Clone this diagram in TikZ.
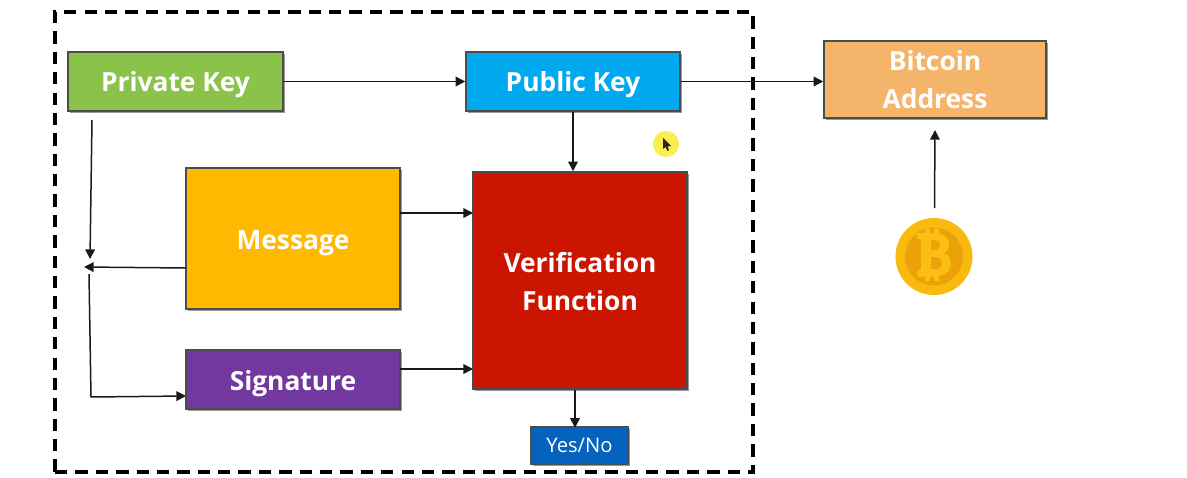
\documentclass[tikz,border=0pt]{standalone}
\usepackage{fontspec}
\setmainfont{Open Sans}
\usetikzlibrary{arrows.meta}
\definecolor{cgreen}{HTML}{8BC34A}
\definecolor{cblue}{HTML}{00A8F0}
\definecolor{corange}{HTML}{F4B56A}
\definecolor{cyellow}{HTML}{FFB900}
\definecolor{cpurple}{HTML}{7238A0}
\definecolor{cred}{HTML}{CC1500}
\definecolor{cdeep}{HTML}{0563BE}
\definecolor{coinA}{HTML}{F9B90E}
\definecolor{coinB}{HTML}{EBA208}
\definecolor{coinC}{HTML}{FDBE14}
\definecolor{hilite}{HTML}{F9EE4E}
\newcommand{\lowered}[2]{\raisebox{-#1}[\height][\depth]{#2}}
\tikzset{
  box/.style={draw=black!70!white,line width=0.9pt,text=white,align=center,inner sep=0pt,
    font=\bfseries\fontsize{15}{21.5}\selectfont,
    preaction={draw=none,fill=black!40,transform canvas={shift={(1.1pt,-1.1pt)}}}},
  link/.style={draw=black!90,line width=0.85pt,-{Triangle[length=5.5pt,width=5.5pt]}},
}
\begin{document}
\begin{tikzpicture}[x=0.02cm,y=-0.02cm]
\useasboundingbox (0,0) rectangle (1187,477);
\node[draw=black,line width=1.9pt,dash pattern=on 7pt off 4.6pt,minimum width=13.96cm,minimum height=9.2cm,inner sep=0pt] (frame) at (404,242) {};
\node[box,fill=cgreen,minimum width=4.3cm,minimum height=1.18cm] (priv) at (175.5,81.5) {\lowered{1.7pt}{Private Key}};
\node[box,fill=cblue,minimum width=4.28cm,minimum height=1.18cm] (pub) at (573,81.5) {\lowered{1.7pt}{Public Key}};
\node[box,fill=corange,minimum width=4.44cm,minimum height=1.54cm] (addr) at (935,79.5) {Bitcoin\\Address};
\node[box,fill=cyellow,minimum width=4.28cm,minimum height=2.82cm] (msg) at (293,238.5) {\lowered{2.6pt}{Message}};
\node[box,fill=cpurple,minimum width=4.28cm,minimum height=1.18cm] (sig) at (293,379.5) {\lowered{2.2pt}{Signature}};
\node[box,fill=cred,minimum width=4.28cm,minimum height=4.34cm] (ver) at (580,280.5) {\lowered{0.5pt}{Verification}\\\lowered{0.5pt}{Function}};
\node[box,fill=cdeep,minimum width=1.94cm,minimum height=0.74cm,font=\fontsize{11.5}{14}\selectfont] (yn) at (579.5,445.5) {Yes/No};
% coin
\node[circle,fill=coinA,minimum size=1.54cm,inner sep=0pt] (coin) at (934,256.5) {};
\fill[coinB] (coin.center) circle (29);
\fill[coinC,even odd rule]
  (917,233) -- (925,233) -- (925,228.5) -- (930,228.5) -- (930,233) -- (934,233) -- (934,228.5) -- (939,228.5) -- (939,233.5)
  .. controls (946,235) and (949,240) .. (949,245) .. controls (949,249) and (947,252) .. (944,253.5)
  .. controls (949,255) and (951,259) .. (951,264) .. controls (951,270) and (946,275) .. (939,276)
  -- (939,281) -- (934,281) -- (934,276.5) -- (930,276.5) -- (930,281) -- (925,281) -- (925,276.5) -- (917,276.5) -- (917,271) -- (921,269) -- (921,240) -- (917,238) -- cycle
  (931,240) -- (931,250) -- (935,250) .. controls (942,250) and (942,240) .. (935,240) -- cycle
  (931,257) -- (931,269) -- (936,269) .. controls (944,269) and (944,257) .. (936,257) -- cycle;
% pointer highlight
\node[circle,fill=hilite,minimum size=0.52cm,inner sep=0pt] (spot) at (666,144) {};
\fill[black!85] (663,138) -- (663,149) -- (665.5,147) -- (667.5,151) -- (669,150) -- (667.5,146.5) -- (671,146) -- cycle;
% free ends
\coordinate (a1) at (92,120);
\coordinate (a2) at (90,259);
\coordinate (b1) at (186,268);
\coordinate (b2) at (84,267);
\coordinate (c1) at (89,274);
\coordinate (c2) at (91,397);
\coordinate (c3) at (186,396);
\coordinate (d1) at (934.5,208);
\coordinate (d2) at (935,130);
% connectors
\draw[link] (priv.east) -- (pub.west);
\draw[link] (pub.east) -- (addr.west |- pub.east);
\draw[link] (pub.south) -- (pub.south |- ver.north);
\draw[link] (400,213) -- (473,213);
\draw[link] (400,369) -- (473,369);
\draw[link] (ver.south -| yn.north) ++(-4.5,0) -- ++(0,38);
\draw[link] (a1) -- (a2);
\draw[link] (b1) -- (b2);
\draw[link,line join=round] (c1) -- (c2) -- (c3);
\draw[link] (d1) -- (d2);
\end{tikzpicture}
\end{document}
